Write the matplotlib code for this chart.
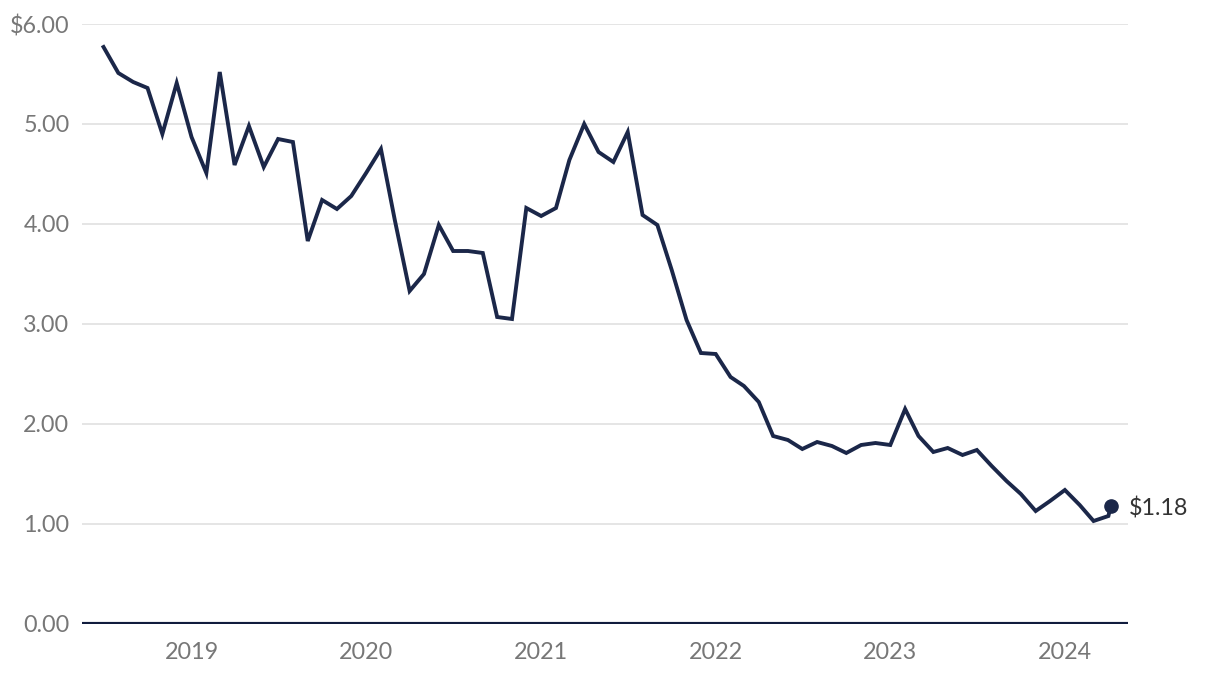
import matplotlib
matplotlib.use("Agg")
import matplotlib.pyplot as plt
import pandas as pd

# Monthly values, July 2018 .. April 2024
start_month = "2018-07-01"
values = [5.77, 5.51, 5.42, 5.36, 4.90, 5.41,
          4.87, 4.51, 5.52, 4.59, 4.98, 4.57,
          4.85, 4.82, 3.83, 4.24, 4.15, 4.28,
          4.51, 4.75, 4.04, 3.33, 3.50, 3.99,
          3.73, 3.73, 3.71, 3.07, 3.05, 4.16,
          4.08, 4.16, 4.64, 5.00, 4.72, 4.62,
          4.92, 4.09, 3.99, 3.54, 3.04, 2.71,
          2.70, 2.47, 2.38, 2.22, 1.88, 1.84,
          1.75, 1.82, 1.78, 1.71, 1.79, 1.81,
          1.79, 2.15, 1.88, 1.72, 1.76, 1.69,
          1.74, 1.58, 1.43, 1.30, 1.13, 1.23,
          1.34, 1.19, 1.03, 1.08]
latest_date = "2024-04-06"
latest_value = 1.18
latest_label = "$1.18"

y_ticks = [0, 1, 2, 3, 4, 5, 6]
y_labels = ["0.00", "1.00", "2.00", "3.00", "4.00", "5.00", "$6.00"]
x_years = [2019, 2020, 2021, 2022, 2023, 2024]

plt.rcParams["font.family"] = ["Lato", "DejaVu Sans"]

dates = pd.date_range(start_month, periods=len(values), freq="MS")
line_x = list(dates) + [pd.Timestamp(latest_date)]
line_y = values + [latest_value]

navy = "#1b2749"
fig = plt.figure(figsize=(12.2, 6.78), dpi=100)
ax = fig.add_axes([82 / 1220, 54 / 678, (1128 - 82) / 1220, 600 / 678])

for y in y_ticks[1:]:
    ax.axhline(y, color="#e3e3e3", lw=1.3, zorder=1)
ax.axhline(0, color="#111c3d", lw=3.0, zorder=3)

ax.plot(line_x, line_y, color=navy, lw=2.8, solid_joinstyle="miter", zorder=4)
ax.plot([pd.Timestamp(latest_date)], [latest_value], "o", color=navy, ms=9.5, zorder=5)
ax.annotate(latest_label, (pd.Timestamp(latest_date), latest_value), xytext=(13, -2),
            textcoords="offset points", va="center", ha="left", fontsize=16.8,
            color="#333333", annotation_clip=False)

ax.set_ylim(0, 6)
ax.set_xlim(pd.Timestamp("2018-05-17"), pd.Timestamp("2024-05-12"))
ax.set_yticks(y_ticks)
ax.set_yticklabels(y_labels)
ax.set_xticks([pd.Timestamp(f"{y}-01-01") for y in x_years])
ax.set_xticklabels([str(y) for y in x_years])
ax.tick_params(axis="both", length=0, labelsize=16.8, labelcolor="#777777")
ax.tick_params(axis="y", pad=9)
ax.tick_params(axis="x", pad=13)
for s in ax.spines.values():
    s.set_visible(False)

fig.savefig("out.png", dpi=100)
